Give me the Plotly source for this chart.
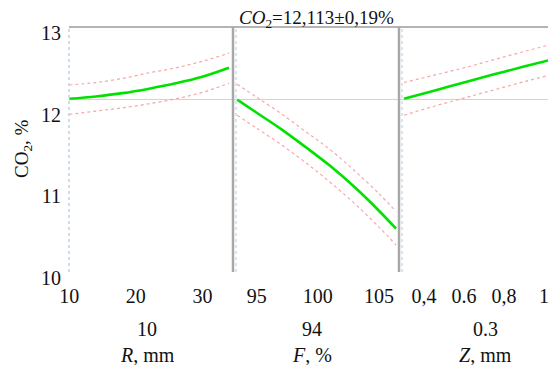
import plotly.graph_objects as go

# page body has an 8px margin; the figure is offset by it
OFF = 8
W, H = 556 - OFF, 365 - OFF

# ---- data ----
R_vals = [10, 14, 18, 22, 26, 30, 34]
R_fit = [12.12, 12.15, 12.19, 12.245, 12.31, 12.39, 12.50]
R_up = [12.29, 12.32, 12.37, 12.44, 12.50, 12.58, 12.68]
R_lo = [11.93, 11.97, 12.01, 12.06, 12.12, 12.20, 12.31]

F_vals = [93.4, 95, 97, 99, 101, 103, 105, 106.4]
F_fit = [12.11, 11.95, 11.75, 11.53, 11.30, 11.04, 10.75, 10.53]
F_up = [12.30, 12.14, 11.94, 11.72, 11.50, 11.24, 10.96, 10.74]
F_lo = [11.92, 11.76, 11.56, 11.34, 11.10, 10.84, 10.55, 10.33]

Z_vals = [0.30, 0.45, 0.60, 0.75, 0.90, 1.06]
Z_fit = [12.12, 12.22, 12.32, 12.42, 12.515, 12.615]
Z_up = [12.32, 12.41, 12.50, 12.60, 12.70, 12.80]
Z_lo = [11.92, 12.03, 12.13, 12.23, 12.33, 12.43]

mean_val = 12.113
title_text = "<i>CO</i><sub>2</sub>=12,113±0,19%"
y_ticks = [10, 11, 12, 13]
R_ticks = [10, 20, 30]
R_ticktext = ["10", "20", "30"]
F_ticks = [95, 100, 105]
F_ticktext = ["95", "100", "105"]
Z_ticks = [0.4, 0.6, 0.8, 1.0]
Z_ticktext = ["0,4", "0.6", "0,8", "1"]
current_vals = ["10", "94", "0.3"]
factor_names = ["<i>R</i>, mm", "<i>F</i>, %", "<i>Z</i>, mm"]

FONT = "Liberation Serif"
GREEN = "rgb(0,225,0)"
RED_DOT = "rgba(240,80,80,0.5)"
FS = 20

def px(x):
    return (x - OFF) / W

def py(y):
    return 1 - (y - OFF) / H

x_dom = [(px(69), px(233)), (px(233), px(399)), (px(399), 1.0)]
y_dom = (py(272), py(27))

fig = go.Figure()

panels = [
    (R_vals, R_fit, R_up, R_lo, "x", [9.95, 34.6], R_ticks, R_ticktext),
    (F_vals, F_fit, F_up, F_lo, "x2", [93.06, 106.64], F_ticks, F_ticktext),
    (Z_vals, Z_fit, Z_up, Z_lo, "x3", [0.275, 1.06], Z_ticks, Z_ticktext),
]

for i, (xv, fit, up, lo, xa, rng, tv, tt) in enumerate(panels):
    for arr in (up, lo):
        fig.add_trace(go.Scatter(x=xv, y=arr, xaxis=xa, yaxis="y", mode="lines",
                                 line=dict(color=RED_DOT, width=1.2, dash="dot", shape="spline"),
                                 showlegend=False, hoverinfo="skip"))
    fig.add_trace(go.Scatter(x=xv, y=fit, xaxis=xa, yaxis="y", mode="lines",
                             line=dict(color=GREEN, width=2.6, shape="spline"),
                             showlegend=False))
    key = "xaxis" if i == 0 else f"xaxis{i+1}"
    fig.layout[key] = dict(
        domain=list(x_dom[i]), range=rng, anchor="y", automargin=False,
        tickvals=tv, ticktext=tt, ticks="", showgrid=False, zeroline=False,
        showline=False, ticklabelstandoff=10,
        tickfont=dict(family=FONT, size=FS, color="#111"),
    )

fig.update_layout(
    width=W, height=H,
    margin=dict(l=0, r=0, t=0, b=0, pad=0),
    paper_bgcolor="white", plot_bgcolor="white",
    showlegend=False,
    yaxis=dict(domain=list(y_dom), range=[10, 13], tickvals=y_ticks, automargin=False,
               ticktext=[str(v) for v in y_ticks], ticks="", showgrid=False,
               zeroline=False, showline=False, ticklabelshift=6,
               ticklabelstandoff=7,
               tickfont=dict(family=FONT, size=FS, color="#111")),
)

shapes = []
shapes.append(dict(type="line", xref="paper", yref="y", x0=px(69), x1=1.0,
                   y0=mean_val, y1=mean_val,
                   line=dict(color="rgba(245,130,130,0.5)", width=1)))
shapes.append(dict(type="line", xref="paper", yref="paper", x0=px(69), x1=1.0,
                   y0=py(27), y1=py(27), line=dict(color="#b4b4b4", width=2)))
shapes.append(dict(type="line", xref="paper", yref="paper", x0=px(69), x1=px(69),
                   y0=py(272), y1=py(27), line=dict(color="#b8d4ee", width=1.5, dash="dot")))
for xd in (233, 399):
    shapes.append(dict(type="line", xref="paper", yref="paper", x0=px(xd), x1=px(xd),
                       y0=py(272), y1=py(27), line=dict(color="#a8a8a8", width=2.5)))
    shapes.append(dict(type="line", xref="paper", yref="paper", x0=px(xd + 3), x1=px(xd + 3),
                       y0=py(272), y1=py(27), line=dict(color="#c8def2", width=1.5, dash="dot")))
fig.update_layout(shapes=shapes)

ann = []
ann.append(dict(text=title_text, xref="paper", yref="paper", x=px(316), y=py(19),
                xanchor="center", yanchor="middle",
                showarrow=False, font=dict(family=FONT, size=19, color="#111")))
ann.append(dict(text="CO<sub>2</sub>, %", xref="paper", yref="paper", x=px(23), y=py(149),
                xanchor="center", yanchor="middle",
                showarrow=False, textangle=-90, font=dict(family=FONT, size=19, color="#111")))
centers = [147, 312, 485]
for c, cv, nm in zip(centers, current_vals, factor_names):
    ann.append(dict(text=cv, xref="paper", yref="paper", x=px(c), y=py(329),
                    xanchor="center", yanchor="middle",
                    showarrow=False, font=dict(family=FONT, size=FS, color="#111")))
    ann.append(dict(text=nm, xref="paper", yref="paper", x=px(c), y=py(355),
                    xanchor="center", yanchor="middle",
                    showarrow=False, font=dict(family=FONT, size=FS, color="#111")))
fig.update_layout(annotations=ann)

fig.write_html("out.html")
